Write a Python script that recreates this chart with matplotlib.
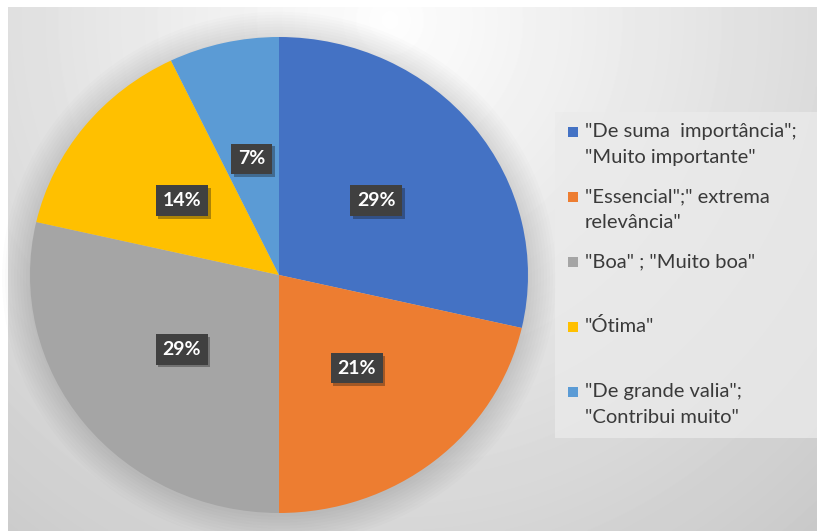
import numpy as np
import matplotlib
matplotlib.use("Agg")
import matplotlib.pyplot as plt
import matplotlib.patheffects as pe
from matplotlib.patches import Rectangle, Ellipse

W, H = 824, 531

# data (counts behind the rounded percentages)
labels = ['"De suma  importância";\n"Muito importante"',
          '"Essencial";" extrema\nrelevância"',
          '"Boa" ; "Muito boa"',
          '"Ótima"',
          '"De grande valia";\n"Contribui muito"']
counts = [4, 3, 4, 2, 1]
colors = ['#4472C4', '#ED7D31', '#A5A5A5', '#FFC000', '#5B9BD5']

plt.rcParams['font.family'] = ['Lato', 'DejaVu Sans']

fig = plt.figure(figsize=(W / 100, H / 100), dpi=100, facecolor='white')


def px(x0, y0, x1, y1):
    # pixel box (top-left origin) -> figure fraction rect
    return [x0 / W, 1 - y1 / H, (x1 - x0) / W, (y1 - y0) / H]


# background radial gradient
bg = fig.add_axes(px(8, 7, 817, 531))
bg.set_axis_off()
yy, xx = np.mgrid[7:531, 8:817]
d = np.sqrt(((xx - 390) / 540.0) ** 2 + ((yy - 20) / 560.0) ** 2)
v = np.clip(0.995 - 0.17 * d, 0.77, 1.0)
bg.imshow(v, cmap='gray', vmin=0, vmax=1, aspect='auto',
          extent=(0, 1, 0, 1), interpolation='bilinear')
bg.set_xlim(0, 1)
bg.set_ylim(0, 1)

# soft shadow around pie
sh = fig.add_axes(px(-10, -3, 568, 553), zorder=1)
sh.set_axis_off()
sh.set_xlim(-1, 1)
sh.set_ylim(-1, 1)
for k in range(10):
    sh.add_patch(Ellipse((0.0, -0.01), 2 * (250 + k * 3) / 289,
                         2 * (239 + k * 3) / 278,
                         fc='black', ec='none', alpha=0.012))

# pie
ax = fig.add_axes(px(30, 37, 528, 513), zorder=2)
wedges, texts, autotexts = ax.pie(
    counts, colors=colors, startangle=90, counterclock=False,
    autopct='%1.0f%%', pctdistance=0.5, radius=1.0,
    wedgeprops=dict(linewidth=0),
    textprops=dict(color='white', fontsize=14, fontweight='bold'))
ax.set_aspect('auto')
ax.set_xlim(-1, 1)
ax.set_ylim(-1, 1)
ax.set_axis_off()
for t in autotexts:
    t.set_bbox(dict(boxstyle='square,pad=0.35', fc='#404040', ec='none'))
    t.get_bbox_patch().set_path_effects(
        [pe.SimplePatchShadow(offset=(2, -2), alpha=0.35), pe.Normal()])

# legend
lg = fig.add_axes(px(555, 112, 817, 438), zorder=3)
lg.set_xlim(555, 817)
lg.set_ylim(438, 112)
lg.set_axis_off()
lg.add_patch(Rectangle((555, 112), 262, 326, fc='#ebebeb', ec='none',
                       alpha=0.75))
for i, (lab, col) in enumerate(zip(labels, colors)):
    base = 137 + i * 65
    lg.add_patch(Rectangle((568, base - 10), 10, 10, fc=col, ec='none'))
    for j, line in enumerate(lab.split('\n')):
        lg.text(585, base + j * 26, line, va='baseline', ha='left',
                fontsize=14.5, color='#3a3a3a')

fig.savefig('out.png', dpi=100, facecolor='white')
